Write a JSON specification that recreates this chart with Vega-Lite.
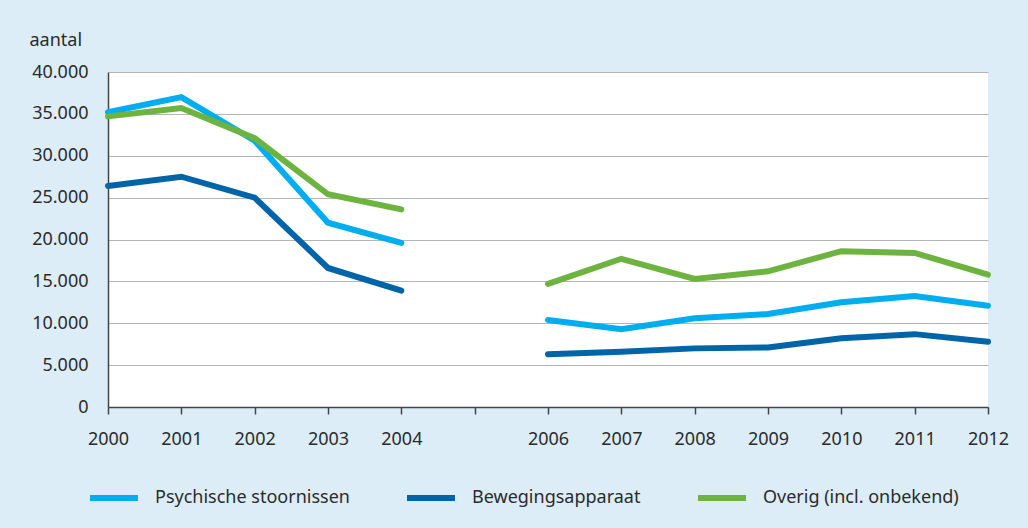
{
  "$schema": "https://vega.github.io/schema/vega-lite/v6.json",
  "width": 880,
  "height": 335,
  "autosize": {"type": "none"},
  "padding": {"left": 108, "top": 72, "right": 40, "bottom": 121},
  "background": "#dcedf8",
  "config": {
    "view": {"fill": "#ffffff", "stroke": null},
    "font": "Noto Sans",
    "axis": {"labelFont": "Noto Sans", "titleFont": "Noto Sans", "labelColor": "#2b2b2b", "titleColor": "#2b2b2b"},
    "legend": {"labelFont": "Noto Sans", "padding": 0}
  },
  "data": {
    "values": [
      {"jaar": 2000, "periode": "a", "categorie": "Psychische stoornissen", "aantal": 35200},
      {"jaar": 2001, "periode": "a", "categorie": "Psychische stoornissen", "aantal": 37000},
      {"jaar": 2002, "periode": "a", "categorie": "Psychische stoornissen", "aantal": 31800},
      {"jaar": 2003, "periode": "a", "categorie": "Psychische stoornissen", "aantal": 22000},
      {"jaar": 2004, "periode": "a", "categorie": "Psychische stoornissen", "aantal": 19600},
      {"jaar": 2006, "periode": "b", "categorie": "Psychische stoornissen", "aantal": 10400},
      {"jaar": 2007, "periode": "b", "categorie": "Psychische stoornissen", "aantal": 9300},
      {"jaar": 2008, "periode": "b", "categorie": "Psychische stoornissen", "aantal": 10600},
      {"jaar": 2009, "periode": "b", "categorie": "Psychische stoornissen", "aantal": 11100},
      {"jaar": 2010, "periode": "b", "categorie": "Psychische stoornissen", "aantal": 12500},
      {"jaar": 2011, "periode": "b", "categorie": "Psychische stoornissen", "aantal": 13250},
      {"jaar": 2012, "periode": "b", "categorie": "Psychische stoornissen", "aantal": 12100},
      {"jaar": 2000, "periode": "a", "categorie": "Bewegingsapparaat", "aantal": 26400},
      {"jaar": 2001, "periode": "a", "categorie": "Bewegingsapparaat", "aantal": 27500},
      {"jaar": 2002, "periode": "a", "categorie": "Bewegingsapparaat", "aantal": 25000},
      {"jaar": 2003, "periode": "a", "categorie": "Bewegingsapparaat", "aantal": 16600},
      {"jaar": 2004, "periode": "a", "categorie": "Bewegingsapparaat", "aantal": 13900},
      {"jaar": 2006, "periode": "b", "categorie": "Bewegingsapparaat", "aantal": 6300},
      {"jaar": 2007, "periode": "b", "categorie": "Bewegingsapparaat", "aantal": 6600},
      {"jaar": 2008, "periode": "b", "categorie": "Bewegingsapparaat", "aantal": 7000},
      {"jaar": 2009, "periode": "b", "categorie": "Bewegingsapparaat", "aantal": 7100},
      {"jaar": 2010, "periode": "b", "categorie": "Bewegingsapparaat", "aantal": 8200},
      {"jaar": 2011, "periode": "b", "categorie": "Bewegingsapparaat", "aantal": 8700},
      {"jaar": 2012, "periode": "b", "categorie": "Bewegingsapparaat", "aantal": 7800},
      {"jaar": 2000, "periode": "a", "categorie": "Overig (incl. onbekend)", "aantal": 34700},
      {"jaar": 2001, "periode": "a", "categorie": "Overig (incl. onbekend)", "aantal": 35700},
      {"jaar": 2002, "periode": "a", "categorie": "Overig (incl. onbekend)", "aantal": 32100},
      {"jaar": 2003, "periode": "a", "categorie": "Overig (incl. onbekend)", "aantal": 25400},
      {"jaar": 2004, "periode": "a", "categorie": "Overig (incl. onbekend)", "aantal": 23600},
      {"jaar": 2006, "periode": "b", "categorie": "Overig (incl. onbekend)", "aantal": 14700},
      {"jaar": 2007, "periode": "b", "categorie": "Overig (incl. onbekend)", "aantal": 17700},
      {"jaar": 2008, "periode": "b", "categorie": "Overig (incl. onbekend)", "aantal": 15300},
      {"jaar": 2009, "periode": "b", "categorie": "Overig (incl. onbekend)", "aantal": 16200},
      {"jaar": 2010, "periode": "b", "categorie": "Overig (incl. onbekend)", "aantal": 18600},
      {"jaar": 2011, "periode": "b", "categorie": "Overig (incl. onbekend)", "aantal": 18400},
      {"jaar": 2012, "periode": "b", "categorie": "Overig (incl. onbekend)", "aantal": 15800}
    ]
  },
  "mark": {"type": "line", "strokeWidth": 6, "strokeCap": "round", "strokeJoin": "miter"},
  "encoding": {
    "x": {
      "field": "jaar",
      "type": "quantitative",
      "scale": {"domain": [2000, 2012], "nice": false, "zero": false},
      "axis": {
        "title": null,
        "values": [2000, 2001, 2002, 2003, 2004, 2005, 2006, 2007, 2008, 2009, 2010, 2011, 2012],
        "labelExpr": "datum.value == 2005 ? '' : format(datum.value, 'd')",
        "grid": false,
        "domainColor": "#444444",
        "domainWidth": 1.5,
        "tickColor": "#444444",
        "tickWidth": 1.5,
        "tickSize": 7,
        "labelFontSize": 18,
        "labelPadding": 16,
        "labelFlush": false
      }
    },
    "y": {
      "field": "aantal",
      "type": "quantitative",
      "scale": {"domain": [0, 40000], "nice": false},
      "axis": {
        "title": "aantal",
        "titleAngle": 0,
        "titleAlign": "left",
        "titleBaseline": "alphabetic",
        "titleX": -79,
        "titleY": -27,
        "titleFontSize": 18,
        "titleFontWeight": "normal",
        "values": [0, 5000, 10000, 15000, 20000, 25000, 30000, 35000, 40000],
        "labelExpr": "replace(format(datum.value, ','), ',', '.')",
        "ticks": false,
        "labelPadding": 20,
        "labelFontSize": 18,
        "grid": true,
        "gridColor": "#b4b4b4",
        "gridWidth": 1.2,
        "domainColor": "#444444",
        "domainWidth": 1.5
      }
    },
    "color": {
      "field": "categorie",
      "type": "nominal",
      "scale": {
        "domain": ["Psychische stoornissen", "Bewegingsapparaat", "Overig (incl. onbekend)"],
        "range": ["#00aeef", "#0065a8", "#6db33f"]
      },
      "legend": {
        "title": null,
        "orient": "none",
        "direction": "horizontal",
        "legendX": -21,
        "legendY": 399,
        "symbolType": "stroke",
        "symbolSize": 2304,
        "symbolStrokeWidth": 6,
        "labelFontSize": 18,
        "labelColor": "#2b2b2b",
        "labelOffset": 14,
        "columnPadding": 45,
        "labelLimit": 400
      }
    },
    "detail": {"field": "periode", "type": "nominal"}
  }
}
